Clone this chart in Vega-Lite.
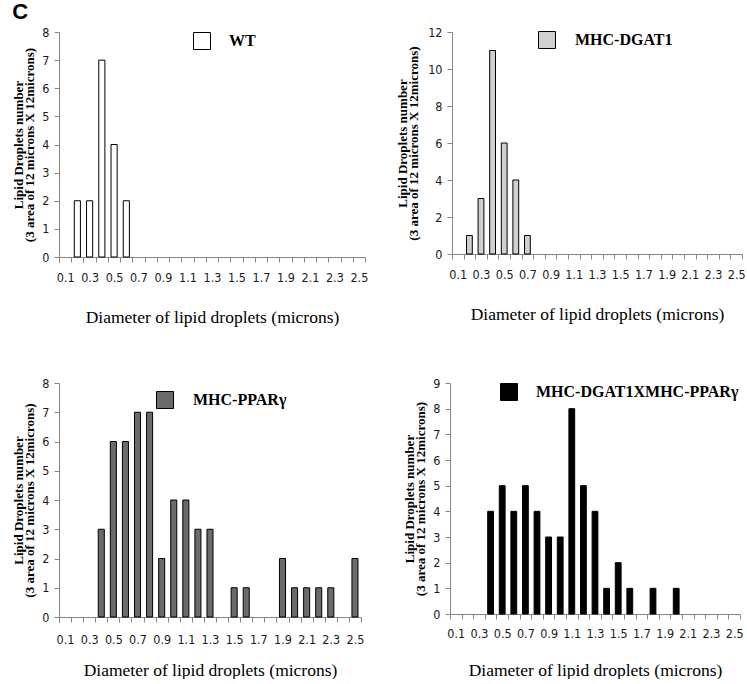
{
  "$schema": "https://vega.github.io/schema/vega-lite/v6.json",
  "padding": {"left": 12, "top": 1, "right": 0, "bottom": 0},
  "background": "white",
  "title": {"text": "C", "anchor": "start", "frame": "bounds", "font": "Liberation Sans", "fontSize": 22, "fontWeight": "bold", "color": "black", "offset": 2},
  "datasets": {
    "wt": [
      {"d": "0.2", "n": 2, "g": "WT"}, {"d": "0.3", "n": 2, "g": "WT"}, {"d": "0.4", "n": 7, "g": "WT"},
      {"d": "0.5", "n": 4, "g": "WT"}, {"d": "0.6", "n": 2, "g": "WT"}
    ],
    "dgat": [
      {"d": "0.2", "n": 1, "g": "MHC-DGAT1"}, {"d": "0.3", "n": 3, "g": "MHC-DGAT1"}, {"d": "0.4", "n": 11, "g": "MHC-DGAT1"},
      {"d": "0.5", "n": 6, "g": "MHC-DGAT1"}, {"d": "0.6", "n": 4, "g": "MHC-DGAT1"}, {"d": "0.7", "n": 1, "g": "MHC-DGAT1"}
    ],
    "ppar": [
      {"d": "0.4", "n": 3, "g": "MHC-PPARγ"}, {"d": "0.5", "n": 6, "g": "MHC-PPARγ"}, {"d": "0.6", "n": 6, "g": "MHC-PPARγ"},
      {"d": "0.7", "n": 7, "g": "MHC-PPARγ"}, {"d": "0.8", "n": 7, "g": "MHC-PPARγ"}, {"d": "0.9", "n": 2, "g": "MHC-PPARγ"},
      {"d": "1.0", "n": 4, "g": "MHC-PPARγ"}, {"d": "1.1", "n": 4, "g": "MHC-PPARγ"}, {"d": "1.2", "n": 3, "g": "MHC-PPARγ"},
      {"d": "1.3", "n": 3, "g": "MHC-PPARγ"}, {"d": "1.5", "n": 1, "g": "MHC-PPARγ"}, {"d": "1.6", "n": 1, "g": "MHC-PPARγ"},
      {"d": "1.9", "n": 2, "g": "MHC-PPARγ"}, {"d": "2.0", "n": 1, "g": "MHC-PPARγ"}, {"d": "2.1", "n": 1, "g": "MHC-PPARγ"},
      {"d": "2.2", "n": 1, "g": "MHC-PPARγ"}, {"d": "2.3", "n": 1, "g": "MHC-PPARγ"}, {"d": "2.5", "n": 2, "g": "MHC-PPARγ"}
    ],
    "cross": [
      {"d": "0.4", "n": 4, "g": "MHC-DGAT1XMHC-PPARγ"}, {"d": "0.5", "n": 5, "g": "MHC-DGAT1XMHC-PPARγ"}, {"d": "0.6", "n": 4, "g": "MHC-DGAT1XMHC-PPARγ"},
      {"d": "0.7", "n": 5, "g": "MHC-DGAT1XMHC-PPARγ"}, {"d": "0.8", "n": 4, "g": "MHC-DGAT1XMHC-PPARγ"}, {"d": "0.9", "n": 3, "g": "MHC-DGAT1XMHC-PPARγ"},
      {"d": "1.0", "n": 3, "g": "MHC-DGAT1XMHC-PPARγ"}, {"d": "1.1", "n": 8, "g": "MHC-DGAT1XMHC-PPARγ"}, {"d": "1.2", "n": 5, "g": "MHC-DGAT1XMHC-PPARγ"},
      {"d": "1.3", "n": 4, "g": "MHC-DGAT1XMHC-PPARγ"}, {"d": "1.4", "n": 1, "g": "MHC-DGAT1XMHC-PPARγ"}, {"d": "1.5", "n": 2, "g": "MHC-DGAT1XMHC-PPARγ"},
      {"d": "1.6", "n": 1, "g": "MHC-DGAT1XMHC-PPARγ"}, {"d": "1.8", "n": 1, "g": "MHC-DGAT1XMHC-PPARγ"}, {"d": "2.0", "n": 1, "g": "MHC-DGAT1XMHC-PPARγ"}
    ]
  },
  "config": {
    "view": {"stroke": null},
    "axis": {
      "grid": false,
      "domainColor": "#868686",
      "tickColor": "#868686",
      "tickSize": 5,
      "labelFont": "'Liberation Sans Narrow', 'DejaVu Sans Condensed', 'Liberation Sans'",
      "labelFontSize": 12.5,
      "labelColor": "#1a1a1a",
      "titleColor": "black"
    },
    "axisX": {
      "labelAngle": 0,
      "labelPadding": 9,
      "labelOverlap": false,
      "tickBand": "extent",
      "titleFont": "Liberation Serif",
      "titleFontSize": 17.5,
      "titleFontWeight": "normal"
    },
    "axisY": {
      "labelPadding": 5,
      "titleFont": "Liberation Serif",
      "titleFontSize": 13,
      "titleFontWeight": "bold",
      "titleLineHeight": 11.5
    },
    "legend": {
      "orient": "none",
      "padding": 0,
      "title": null,
      "symbolType": "square",
      "symbolSize": 289,
      "symbolStrokeColor": "black",
      "symbolStrokeWidth": 1,
      "symbolOpacity": 1,
      "labelFont": "Liberation Serif",
      "labelFontSize": 16,
      "labelFontWeight": "bold",
      "labelColor": "black",
      "labelOffset": 18,
      "labelLimit": 400
    }
  },
  "resolve": {"scale": {"color": "independent", "x": "independent", "y": "independent"}, "legend": {"color": "independent"}},
  "spacing": 51,
  "vconcat": [
    {
      "spacing": 28,
      "resolve": {"scale": {"color": "independent", "x": "independent", "y": "independent"}, "legend": {"color": "independent"}},
      "hconcat": [
        {
          "width": 306, "height": 225,
          "data": {"name": "wt"},
          "mark": {"type": "bar", "stroke": "black", "strokeWidth": 1, "width": {"band": 0.5}, "opacity": 1},
          "encoding": {
            "x": {"field": "d", "type": "nominal",
              "scale": {"domain": ["0.1","0.2","0.3","0.4","0.5","0.6","0.7","0.8","0.9","1.0","1.1","1.2","1.3","1.4","1.5","1.6","1.7","1.8","1.9","2.0","2.1","2.2","2.3","2.4","2.5"], "paddingInner": 0, "paddingOuter": 0},
              "axis": {"title": "Diameter of lipid droplets (microns)", "titlePadding": 25,
                "labelExpr": "round(toNumber(datum.value) * 10) % 2 == 1 ? datum.label : ''"}},
            "y": {"field": "n", "type": "quantitative", "scale": {"domain": [0, 8], "nice": false},
              "axis": {"values": [0,1,2,3,4,5,6,7,8], "title": ["Lipid Droplets number", "(3 area of  12 microns X 12microns)"], "titlePadding": 5}},
            "color": {"field": "g", "type": "nominal", "scale": {"domain": ["WT"], "range": ["#ffffff"]},
              "legend": {"legendX": 134, "legendY": 0}}
          }
        },
        {
          "width": 290, "height": 222,
          "data": {"name": "dgat"},
          "mark": {"type": "bar", "stroke": "black", "strokeWidth": 1, "width": {"band": 0.5}, "opacity": 1},
          "encoding": {
            "x": {"field": "d", "type": "nominal",
              "scale": {"domain": ["0.1","0.2","0.3","0.4","0.5","0.6","0.7","0.8","0.9","1.0","1.1","1.2","1.3","1.4","1.5","1.6","1.7","1.8","1.9","2.0","2.1","2.2","2.3","2.4","2.5"], "paddingInner": 0, "paddingOuter": 0},
              "axis": {"title": "Diameter of lipid droplets (microns)", "titlePadding": 25,
                "labelExpr": "round(toNumber(datum.value) * 10) % 2 == 1 ? datum.label : ''"}},
            "y": {"field": "n", "type": "quantitative", "scale": {"domain": [0, 12], "nice": false},
              "axis": {"values": [0,2,4,6,8,10,12], "title": ["Lipid Droplets number", "(3 area of  12 microns X 12microns)"], "titlePadding": 7}},
            "color": {"field": "g", "type": "nominal", "scale": {"domain": ["MHC-DGAT1"], "range": ["#d0d0d0"]},
              "legend": {"legendX": 86, "legendY": -1, "labelOffset": 19}}
          }
        }
      ]
    },
    {
      "spacing": 39,
      "resolve": {"scale": {"color": "independent", "x": "independent", "y": "independent"}, "legend": {"color": "independent"}},
      "hconcat": [
        {
          "width": 302, "height": 234,
          "data": {"name": "ppar"},
          "mark": {"type": "bar", "stroke": "black", "strokeWidth": 1, "width": {"band": 0.5}, "opacity": 1},
          "encoding": {
            "x": {"field": "d", "type": "nominal",
              "scale": {"domain": ["0.1","0.2","0.3","0.4","0.5","0.6","0.7","0.8","0.9","1.0","1.1","1.2","1.3","1.4","1.5","1.6","1.7","1.8","1.9","2.0","2.1","2.2","2.3","2.4","2.5"], "paddingInner": 0, "paddingOuter": 0},
              "axis": {"title": "Diameter of lipid droplets (microns)", "titlePadding": 16, "labelPadding": 11,
                "labelExpr": "round(toNumber(datum.value) * 10) % 2 == 1 ? datum.label : ''"}},
            "y": {"field": "n", "type": "quantitative", "scale": {"domain": [0, 8], "nice": false},
              "axis": {"values": [0,1,2,3,4,5,6,7,8], "title": ["Lipid Droplets number", "(3 area of  12 microns X 12microns)"], "titlePadding": 5}},
            "color": {"field": "g", "type": "nominal", "scale": {"domain": ["MHC-PPARγ"], "range": ["#6b6b6b"]},
              "legend": {"legendX": 97, "legendY": 8, "labelOffset": 19}}
          }
        },
        {
          "width": 290, "height": 231,
          "data": {"name": "cross"},
          "mark": {"type": "bar", "stroke": "black", "strokeWidth": 1, "width": {"band": 0.5}, "opacity": 1},
          "encoding": {
            "x": {"field": "d", "type": "nominal",
              "scale": {"domain": ["0.1","0.2","0.3","0.4","0.5","0.6","0.7","0.8","0.9","1.0","1.1","1.2","1.3","1.4","1.5","1.6","1.7","1.8","1.9","2.0","2.1","2.2","2.3","2.4","2.5"], "paddingInner": 0, "paddingOuter": 0},
              "axis": {"title": "Diameter of lipid droplets (microns)", "titlePadding": 22, "labelPadding": 8,
                "labelExpr": "round(toNumber(datum.value) * 10) % 2 == 1 ? datum.label : ''"}},
            "y": {"field": "n", "type": "quantitative", "scale": {"domain": [0, 9], "nice": false},
              "axis": {"values": [0,1,2,3,4,5,6,7,8,9], "title": ["Lipid Droplets number", "(3 area of  12 microns X 12microns)"], "titlePadding": 5}},
            "color": {"field": "g", "type": "nominal", "scale": {"domain": ["MHC-DGAT1XMHC-PPARγ"], "range": ["#000000"]},
              "legend": {"legendX": 50, "legendY": 0}}
          }
        }
      ]
    }
  ]
}
